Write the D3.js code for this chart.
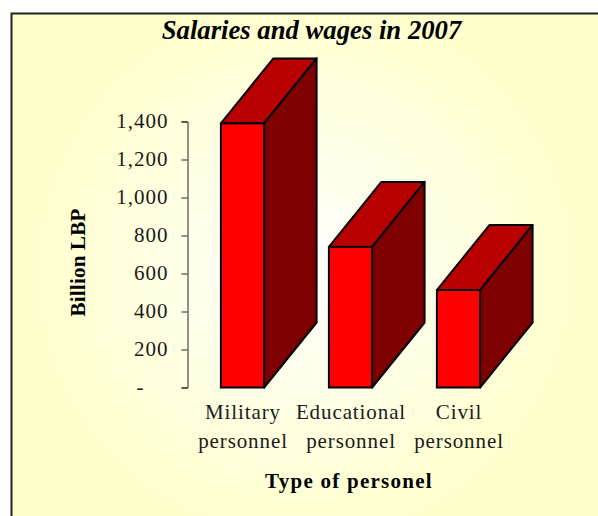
<!DOCTYPE html>
<html>
<head>
<meta charset="utf-8">
<script src="https://cdn.jsdelivr.net/npm/d3@7"></script>
<style>
html, body { margin: 0; padding: 0; background: #fff; overflow: hidden; }
svg { display: block; }
text { font-family: "Liberation Serif", serif; fill: #1a1a1a; }
</style>
</head>
<body>
<div id="chart"></div>
<script>
var categories = ["Military personnel", "Educational personnel", "Civil personnel"];
var values = [1390, 740, 513];
var yTicks = [0, 200, 400, 600, 800, 1000, 1200, 1400];

var width = 598, height = 516;
var depthX = 52.5, depthY = 65;

var svg = d3.select("#chart").append("svg")
    .attr("width", width)
    .attr("height", height);

var defs = svg.append("defs");
var grad = defs.append("radialGradient")
    .attr("id", "bg")
    .attr("gradientUnits", "userSpaceOnUse")
    .attr("cx", 305).attr("cy", 270).attr("r", 275);
grad.append("stop").attr("offset", "0%").attr("stop-color", "#ffffff");
grad.append("stop").attr("offset", "100%").attr("stop-color", "#ffffcc");

// frame runs off the right and bottom of the picture
svg.append("rect")
    .attr("x", 11.5).attr("y", 13.5)
    .attr("width", 600).attr("height", 520)
    .attr("fill", "url(#bg)")
    .attr("stroke", "#222")
    .attr("stroke-width", 2);

var x = d3.scaleBand()
    .domain(categories)
    .range([188.5, 512.5])
    .paddingInner(0.6)
    .paddingOuter(0.3);

var y = d3.scaleLinear()
    .domain([0, 1400])
    .range([387.5, 121.5]);

var axis = d3.axisLeft(y)
    .tickValues(yTicks)
    .tickSize(6)
    .tickPadding(13)
    .tickFormat(d => d === 0 ? "-" : d3.format(",")(d));

var yAxis = svg.append("g")
    .attr("transform", "translate(187.5,0)")
    .call(axis);
yAxis.select(".domain").attr("stroke", "#222");
yAxis.selectAll(".tick line").attr("stroke", "#222");
yAxis.selectAll("text")
    .style("font-size", "21px")
    .style("letter-spacing", "1px")
    .attr("fill", "#1a1a1a")
    .attr("y", -1)
    .filter(d => d === 0)
    .attr("dx", -24);

var bars = svg.append("g")
    .selectAll("g")
    .data(categories)
    .join("g");

bars.append("polygon")
    .attr("fill", "#b80000")
    .attr("stroke", "#000")
    .attr("stroke-width", 2)
    .attr("stroke-linejoin", "round")
    .attr("points", (d, i) => {
        var l = x(d), r = x(d) + x.bandwidth(), t = y(values[i]);
        return [[l, t], [l + depthX, t - depthY], [r + depthX, t - depthY], [r, t]].join(" ");
    });

bars.append("polygon")
    .attr("fill", "#7f0000")
    .attr("stroke", "#000")
    .attr("stroke-width", 2)
    .attr("stroke-linejoin", "round")
    .attr("points", (d, i) => {
        var r = x(d) + x.bandwidth(), t = y(values[i]), b = y(0);
        return [[r, t], [r + depthX, t - depthY], [r + depthX, b - depthY], [r, b]].join(" ");
    });

bars.append("rect")
    .attr("fill", "#ff0000")
    .attr("stroke", "#000")
    .attr("stroke-width", 2)
    .attr("x", d => x(d))
    .attr("y", (d, i) => y(values[i]))
    .attr("width", x.bandwidth())
    .attr("height", (d, i) => y(0) - y(values[i]));

var labels = svg.append("g")
    .selectAll("text")
    .data(categories)
    .join("text")
    .attr("text-anchor", "middle")
    .style("font-size", "21px")
    .style("letter-spacing", "0.9px");

labels.each(function(d) {
    var cx = x(d) + x.bandwidth() / 2;
    var parts = d.split(" ");
    d3.select(this).selectAll("tspan")
        .data(parts)
        .join("tspan")
        .attr("x", cx + 0.5)
        .attr("y", (p, i) => 419 + i * 29)
        .text(p => p);
});

svg.append("text")
    .attr("x", 311.5).attr("y", 39)
    .attr("text-anchor", "middle")
    .style("font-size", "26.7px")
    .style("font-weight", "bold")
    .style("font-style", "italic")
    .style("fill", "#000")
    .text("Salaries and wages in 2007");

svg.append("text")
    .attr("x", 349).attr("y", 488)
    .attr("text-anchor", "middle")
    .style("font-size", "21px")
    .style("font-weight", "bold")
    .style("letter-spacing", "1.25px")
    .style("fill", "#000")
    .text("Type of personel");

svg.append("text")
    .attr("transform", "translate(85,262.5) rotate(-90)")
    .attr("text-anchor", "middle")
    .style("font-size", "21px")
    .style("font-weight", "bold")
    .style("letter-spacing", "0.2px")
    .style("fill", "#000")
    .text("Billion LBP");
</script>
</body>
</html>
